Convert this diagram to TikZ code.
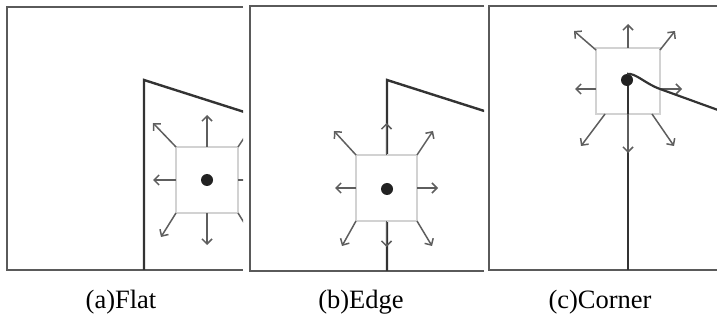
\documentclass[tikz,border=0pt]{standalone}
\usepackage{fontspec}
\setmainfont{Liberation Serif}
\usetikzlibrary{arrows.meta,calc}
\definecolor{framegray}{HTML}{5A5A5A}
\definecolor{wallgray}{HTML}{333333}
\definecolor{boxgray}{HTML}{D2D2D2}
\definecolor{arrgray}{HTML}{5E5E5E}
\definecolor{dotgray}{HTML}{222222}
\tikzset{
  frameline/.style={draw=framegray, line width=2.6pt},
  wallline/.style={draw=wallgray, line width=2.4pt, line join=miter},
  senbox/.style={draw=boxgray, line width=1.6pt, fill=white, inner sep=0pt, outer sep=0pt},
  pdot/.style={circle, fill=dotgray, inner sep=0pt, minimum size=12pt},
  arr/.style={draw=arrgray, line width=1.5pt, -{Straight Barb[length=5pt,width=10pt,line width=1.5pt]}},
  captext/.style={font=\fontsize{26.5}{30}\selectfont, anchor=base, inner sep=0pt}
}
\begin{document}
\begin{tikzpicture}[x=1pt,y=-1pt]
\useasboundingbox (0,0) rectangle (717,320);
% ---------- panel (a)
\begin{scope}
\clip (0,0) rectangle (243,280);
\draw[frameline] (243,7) -- (7,7) -- (7,270) -- (243,270);
\draw[wallline] (144,270) -- (144,80) -- (260,117);
\node[senbox, minimum width=62pt, minimum height=66pt] (boxa) at (207,180) {};
\node[pdot] (dota) at (207,180) {};
\draw[arr] (boxa.north) -- ++(0,-32);
\draw[arr] (boxa.south) -- ++(0,32);
\draw[arr] (boxa.west) -- ++(-23,0);
\draw[arr] (boxa.east) -- ++(23,0);
\draw[arr] (boxa.north west) -- ++(-23,-24);
\draw[arr] (boxa.south west) -- ++(-15,24);
\draw[arr] (boxa.north east) -- ++(16,-24);
\draw[arr] (boxa.south east) -- ++(15,24);
\end{scope}
% ---------- panel (b)
\begin{scope}
\clip (247,0) rectangle (484,280);
\draw[frameline] (484,6) -- (250,6) -- (250,271) -- (484,271);
\draw[wallline] (387,271) -- (387,80) -- (500,116);
\node[senbox, minimum width=61pt, minimum height=66pt] (boxb) at (386.5,188) {};
\node[pdot] (dotb) at (387,189) {};
\draw[arr] (boxb.north) -- ++(0,-32);
\draw[arr] (boxb.south) -- ++(0,26);
\draw[arr] (boxb.west) -- ++(-21,0);
\draw[arr] (boxb.east) -- ++(21,0);
\draw[arr] (boxb.north west) -- ++(-22,-24);
\draw[arr] (boxb.south west) -- ++(-14,25);
\draw[arr] (boxb.north east) -- ++(16,-24);
\draw[arr] (boxb.south east) -- ++(15,25);
\end{scope}
% ---------- panel (c)
\begin{scope}
\clip (487,0) rectangle (717,280);
\draw[frameline] (717,6) -- (489,6) -- (489,270) -- (717,270);
\node[senbox, minimum width=64pt, minimum height=66pt] (boxc) at (628,81) {};
\draw[wallline] (628,270) -- (628,80);
\node[pdot] (dotc) at (627,80) {};
\draw[arr] (boxc.north) -- ++(0,-24);
\draw[arr] ($(boxc.west)+(0,8)$) -- ++(-21,0);
\draw[arr] ($(boxc.east)+(0,8)$) -- ++(22,0);
\draw[arr] ($(boxc.north west)+(0,2)$) -- ++(-22,-19);
\draw[arr] ($(boxc.north east)+(0,2)$) -- ++(15,-19);
\draw[arr] ($(boxc.south west)+(9,0)$) -- ++(-24,32);
\draw[arr] ($(boxc.south east)+(-8,0)$) -- ++(22,32);
\draw[arr] (boxc.south) -- ++(0,39);
\draw[draw=wallgray, line width=2.2pt] (dotc.north) .. controls (636,73) and (645,83.6) .. (660,89) -- (740,118);
\end{scope}
% ---------- captions
\node[captext] (capa) at (121,308) {(a)Flat};
\node[captext] (capb) at (361,308) {(b)Edge};
\node[captext] (capc) at (600,308) {(c)Corner};
\end{tikzpicture}
\end{document}
